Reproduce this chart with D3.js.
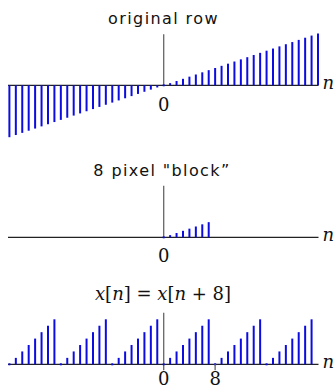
<!DOCTYPE html>
<html>
<head>
<meta charset="utf-8">
<script src="https://cdn.jsdelivr.net/npm/d3@7"></script>
<style>
  body { margin: 0; background: #fff; }
  .title { font-family: "DejaVu Sans", sans-serif; font-size: 16px; letter-spacing: 1.4px; fill: #111; }
  .math { font-family: "DejaVu Serif", serif; font-size: 18px; fill: #111; }
</style>
</head>
<body>
<div id="chart"></div>
<script>
// sample positions and values
const rowN = [-24,-23,-22,-21,-20,-19,-18,-17,-16,-15,-14,-13,-12,-11,-10,-9,-8,-7,-6,-5,-4,-3,-2,-1,
  0,1,2,3,4,5,6,7,8,9,10,11,12,13,14,15,16,17,18,19,20,21,22,23,24];
const rowValues = [-24,-23,-22,-21,-20,-19,-18,-17,-16,-15,-14,-13,-12,-11,-10,-9,-8,-7,-6,-5,-4,-3,-2,-1,
  0,1,2,3,4,5,6,7,8,9,10,11,12,13,14,15,16,17,18,19,20,21,22,23,24];

const blockN = [0,1,2,3,4,5,6,7];
const blockValues = [0,1,2,3,4,5,6,7];

const periodN = [-24,-23,-22,-21,-20,-19,-18,-17,-16,-15,-14,-13,-12,-11,-10,-9,-8,-7,-6,-5,-4,-3,-2,-1,
  0,1,2,3,4,5,6,7,8,9,10,11,12,13,14,15,16,17,18,19,20,21,22,23];
const periodValues = [0,1,2,3,4,5,6,7, 0,1,2,3,4,5,6,7, 0,1,2,3,4,5,6,7,
  0,1,2,3,4,5,6,7, 0,1,2,3,4,5,6,7, 0,1,2,3,4,5,6,7];
const periodTicks = [0, 8];

const W = 335, H = 390;
const svg = d3.select("#chart").append("svg")
  .attr("width", W).attr("height", H);

const x = d3.scaleLinear().domain([-24, 24]).range([9.4, 318]);
const stemColor = "#0c0ce0";

function panel(opts) {
  const g = svg.append("g");
  const y = d3.scaleLinear().domain(opts.domain).range(opts.range);
  const y0 = y(0);

  // horizontal axis
  g.append("line")
    .attr("x1", 8).attr("x2", 318.5)
    .attr("y1", y0).attr("y2", y0)
    .attr("stroke", "#222").attr("stroke-width", 1.3);

  // vertical axis
  g.append("line")
    .attr("x1", x(0)).attr("x2", x(0))
    .attr("y1", y(opts.vTop)).attr("y2", y0 + (opts.vBelow || 0))
    .attr("stroke", "#666").attr("stroke-width", 1.3);

  // stems
  g.selectAll("line.stem")
    .data(opts.n.map((n, i) => ({ n: n, v: opts.values[i] })))
    .enter().append("line")
    .attr("class", "stem")
    .attr("x1", d => x(d.n)).attr("x2", d => x(d.n))
    .attr("y1", y0).attr("y2", d => y(d.v))
    .attr("stroke", stemColor).attr("stroke-width", 2)
    .attr("stroke-linecap", d => d.v === 0 ? "square" : "butt");

  // ticks
  (opts.ticks || []).forEach(t => {
    if (t !== 0) {
      g.append("line")
        .attr("x1", x(t)).attr("x2", x(t))
        .attr("y1", y0).attr("y2", y0 + 6)
        .attr("stroke", "#666").attr("stroke-width", 1.3);
    }
    g.append("text").attr("class", "math")
      .attr("x", x(t)).attr("y", opts.labelY)
      .attr("text-anchor", "middle")
      .text(t);
  });

  // n label
  g.append("text").attr("class", "math")
    .attr("x", 322.5).attr("y", y0 + 3.6)
    .attr("font-style", "italic")
    .text("n");
  return g;
}

panel({ n: rowN, values: rowValues, domain: [-24, 24], range: [137.2, 33.4],
  vTop: 23.6, ticks: [0], labelY: 110.5 });
svg.append("text").attr("class", "title")
  .attr("x", 163.5).attr("y", 23.5).attr("text-anchor", "middle")
  .text("original row");

panel({ n: blockN, values: blockValues, domain: [0, 24], range: [237.3, 185.4],
  vTop: 23.8, ticks: [0], labelY: 261.5 });
svg.append("text").attr("class", "title")
  .attr("x", 162).attr("y", 176).attr("text-anchor", "middle")
  .text("8 pixel \"block\u201D");

panel({ n: periodN, values: periodValues, domain: [0, 7], range: [364.3, 319.3],
  vTop: 8, vBelow: 6, ticks: periodTicks, labelY: 385 });
const eq = svg.append("text").attr("class", "math")
  .attr("x", 163).attr("y", 300).attr("text-anchor", "middle");
eq.append("tspan").attr("font-style", "italic").text("x");
eq.append("tspan").text("[");
eq.append("tspan").attr("font-style", "italic").text("n");
eq.append("tspan").text("] = ");
eq.append("tspan").attr("font-style", "italic").text("x");
eq.append("tspan").text("[");
eq.append("tspan").attr("font-style", "italic").text("n");
eq.append("tspan").text(" + 8]");
</script>
</body>
</html>
